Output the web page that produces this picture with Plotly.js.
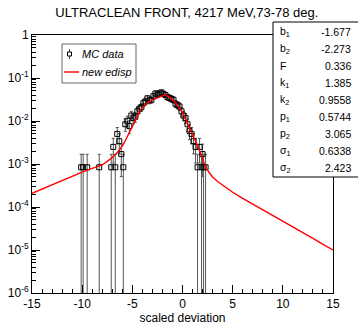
<!DOCTYPE html>
<html>
<head>
<meta charset="utf-8">
<script src="https://cdn.plot.ly/plotly-3.0.1.min.js"></script>
<style>html,body{margin:0;padding:0;background:#fff;}#chart{width:358px;height:325px;}</style>
</head>
<body>
<div id="chart"></div>
<script>
// ---- Data ----
const dataX = [-10.1,-9.9,-9.5,-8.3,-7.1,-6.9,-6.7,-6.5,-6.3,-6.1,-5.9,-5.7,-5.5,-5.3,-5.1,-4.9,-4.7,-4.5,-4.3,-4.1,-3.9,-3.7,-3.5,-3.3,-3.1,-2.9,-2.7,-2.5,-2.3,-2.1,-1.9,-1.7,-1.5,-1.3,-1.1,-0.9,-0.7,-0.5,-0.3,-0.1,0.1,0.3,0.5,0.7,0.9,1.1,1.3,1.5,1.7,1.9,2.0,2.1,2.3];
const dataY = [8.4e-4,8.4e-4,8.4e-4,8.4e-4,8.4e-4,2.5e-3,8.4e-4,5.0e-3,3.4e-3,1.7e-3,8.4e-4,8.4e-3,0.0101,7.6e-3,0.0134,0.0118,0.0126,0.0168,0.0193,0.0210,0.0260,0.0286,0.0336,0.0302,0.0311,0.0378,0.0437,0.0412,0.0437,0.0462,0.0428,0.0403,0.0361,0.0344,0.0328,0.0311,0.0252,0.0235,0.0218,0.0168,0.0134,0.0118,0.0084,0.0059,0.0050,0.0034,0.0025,8.4e-4,0.0025,8.4e-4,1.7e-3,8.4e-4,8.4e-4];
const dataErr = [8.4e-4,8.4e-4,8.4e-4,8.4e-4,8.4e-4,1.45e-3,8.4e-4,2.06e-3,1.68e-3,1.19e-3,8.4e-4,2.66e-3,2.91e-3,2.52e-3,3.36e-3,3.14e-3,3.25e-3,3.76e-3,4.03e-3,4.2e-3,4.68e-3,4.9e-3,5.31e-3,5.04e-3,5.11e-3,5.63e-3,6.06e-3,5.88e-3,6.06e-3,6.23e-3,6.0e-3,5.82e-3,5.51e-3,5.38e-3,5.25e-3,5.11e-3,4.6e-3,4.44e-3,4.28e-3,3.76e-3,3.36e-3,3.14e-3,2.66e-3,2.22e-3,2.06e-3,1.68e-3,1.45e-3,8.4e-4,1.45e-3,8.4e-4,1.19e-3,8.4e-4,8.4e-4];

const curveX = [-15,-14,-13,-12,-11,-10,-9,-8,-7.5,-7,-6.5,-6.2,-6,-5.75,-5.5,-5.25,-5,-4.75,-4.5,-4.25,-4,-3.5,-3,-2.5,-2,-1.7,-1.4,-1,-0.6,-0.3,0,0.25,0.6,1,1.4,1.8,2.1,2.3,2.6,3,3.5,4,5,6,7,8,9,10,11,12,13,14,15];
const curveY = [2.09e-4,2.63e-4,3.31e-4,4.17e-4,5.25e-4,6.46e-4,7.9e-4,9.5e-4,1.15e-3,1.42e-3,1.85e-3,2.2e-3,2.6e-3,3.3e-3,4.4e-3,5.6e-3,7.5e-3,0.0100,0.0130,0.0170,0.0205,0.0265,0.0310,0.0350,0.0385,0.0405,0.0370,0.0310,0.0255,0.0195,0.0160,0.0120,0.0080,0.0050,0.0030,0.0018,0.0011,8.4e-4,6.6e-4,5.0e-4,3.9e-4,3.2e-4,2.2e-4,1.58e-4,1.17e-4,8.5e-5,6.3e-5,4.7e-5,3.4e-5,2.5e-5,1.86e-5,1.35e-5,1.0e-5];

const xTickVals = [-15,-10,-5,0,5,10,15];
const xTickText = ['-15','-10','-5','0','5','10','15'];
const yTickVals = [1e-6,1e-5,1e-4,1e-3,1e-2,1e-1,1];
const yTickText = ['10<sup>-6</sup>','10<sup>-5</sup>','10<sup>-4</sup>','10<sup>-3</sup>','10<sup>-2</sup>','10<sup>-1</sup>','1'];

const statLabels = ['b<sub>1</sub>','b<sub>2</sub>','F','k<sub>1</sub>','k<sub>2</sub>','p<sub>1</sub>','p<sub>2</sub>','σ<sub>1</sub>','σ<sub>2</sub>'];
const statValues = ['-1.677','-2.273','0.336','1.385','0.9558','0.5744','3.065','0.6338','2.423'];

const legendNames = ['MC data', 'new edisp'];
const titleText = 'ULTRACLEAN FRONT, 4217 MeV,73-78 deg.';
const xTitle = 'scaled deviation';

// ---- Layout helpers (pixel -> paper) ----
const L = 32, R = 333, T = 35, B = 293;
const px = p => (p - L) / (R - L);
const py = p => (B - p) / (B - T);

const minorY = [];
for (let e = -6; e < 0; e++) for (let m = 2; m <= 9; m++) minorY.push(m * Math.pow(10, e));

const FONT = 'Liberation Sans, Arial, Helvetica, sans-serif';

const traces = [
  {
    x: dataX, y: dataY, type: 'scatter', mode: 'markers', name: legendNames[0], showlegend: false,
    marker: {symbol: 'square-open', size: 5, color: '#000', line: {width: 1, color: '#000'}},
    error_y: {type: 'data', array: dataErr, visible: true, color: '#555', thickness: 1, width: 1.5}
  },
  {
    x: curveX, y: curveY, type: 'scatter', mode: 'lines', name: legendNames[1], showlegend: false,
    line: {color: '#ff0000', width: 1.4}
  }
];

const annotations = [];
const rowTop = 23, rowH = 17.1;
statLabels.forEach((lab, i) => {
  const yc = rowTop + rowH * (i + 0.5);
  annotations.push({xref: 'paper', yref: 'paper', x: px(278), y: py(yc), xanchor: 'left', yanchor: 'middle',
    text: lab, showarrow: false, font: {family: FONT, size: 10.5, color: '#000'}});
  annotations.push({xref: 'paper', yref: 'paper', x: px(353), y: py(yc), xanchor: 'right', yanchor: 'middle',
    text: statValues[i], showarrow: false, font: {family: FONT, size: 10.5, color: '#000'}});
});
// legend texts
const legRows = [54, 72];
legendNames.forEach((nm, i) => {
  annotations.push({xref: 'paper', yref: 'paper', x: px(80), y: py(legRows[i]), xanchor: 'left', yanchor: 'middle',
    text: '<i>' + nm + '</i>', showarrow: false, font: {family: FONT, size: 11, color: '#000'}});
});

const shapes = [
  // stats box
  {type: 'rect', xref: 'paper', yref: 'paper', x0: px(273), x1: px(362), y0: py(177), y1: py(22),
    line: {color: '#000', width: 1}, fillcolor: '#fff', layer: 'above'},
  // legend box
  {type: 'rect', xref: 'paper', yref: 'paper', x0: px(62), x1: px(136), y0: py(83), y1: py(44),
    line: {color: '#666', width: 1}, fillcolor: '#fff', layer: 'above'},
  // legend sample: marker with error bar
  {type: 'line', xref: 'paper', yref: 'paper', x0: px(69.5), x1: px(69.5), y0: py(49), y1: py(59),
    line: {color: '#444', width: 1}, layer: 'above'},
  {type: 'rect', xref: 'paper', yref: 'paper', x0: px(67.5), x1: px(71.5), y0: py(56), y1: py(52),
    line: {color: '#000', width: 1}, fillcolor: '#fff', layer: 'above'},
  // legend sample: red line
  {type: 'line', xref: 'paper', yref: 'paper', x0: px(64), x1: px(79), y0: py(72), y1: py(72),
    line: {color: '#ff0000', width: 1.4}, layer: 'above'}
];

const layout = {
  width: 358, height: 325,
  margin: {l: L, r: 358 - R, t: T, b: 325 - B, pad: 0},
  paper_bgcolor: '#fff', plot_bgcolor: '#fff',
  font: {family: FONT, size: 12, color: '#000'},
  title: {text: titleText, font: {family: FONT, size: 13, color: '#000'}, x: 0.522, xref: 'container', xanchor: 'center', y: 0.962, yref: 'container', yanchor: 'middle'},
  showlegend: false,
  xaxis: {
    range: [-15, 15], showgrid: false, zeroline: false, showline: true, linecolor: '#000', linewidth: 1, mirror: true,
    tickmode: 'array', tickvals: xTickVals, ticktext: xTickText, ticks: 'inside', ticklen: 8, tickcolor: '#000',
    minor: {tickmode: 'linear', tick0: 0, dtick: 1, ticks: 'inside', ticklen: 4, tickcolor: '#000', showgrid: false},
    tickfont: {family: FONT, size: 12},
    title: {text: xTitle, font: {family: FONT, size: 12}, standoff: 2}
  },
  yaxis: {
    type: 'log', range: [-6, 0], showgrid: false, zeroline: false, showline: true, linecolor: '#000', linewidth: 1, mirror: true,
    tickmode: 'array', tickvals: yTickVals, ticktext: yTickText, ticks: 'inside', ticklen: 8, tickcolor: '#000',
    minor: {tickmode: 'array', tickvals: minorY, ticks: 'inside', ticklen: 4, tickcolor: '#000', showgrid: false},
    tickfont: {family: FONT, size: 12}
  },
  shapes: shapes,
  annotations: annotations
};

Plotly.newPlot('chart', traces, layout, {staticPlot: true, displayModeBar: false});
</script>
</body>
</html>
